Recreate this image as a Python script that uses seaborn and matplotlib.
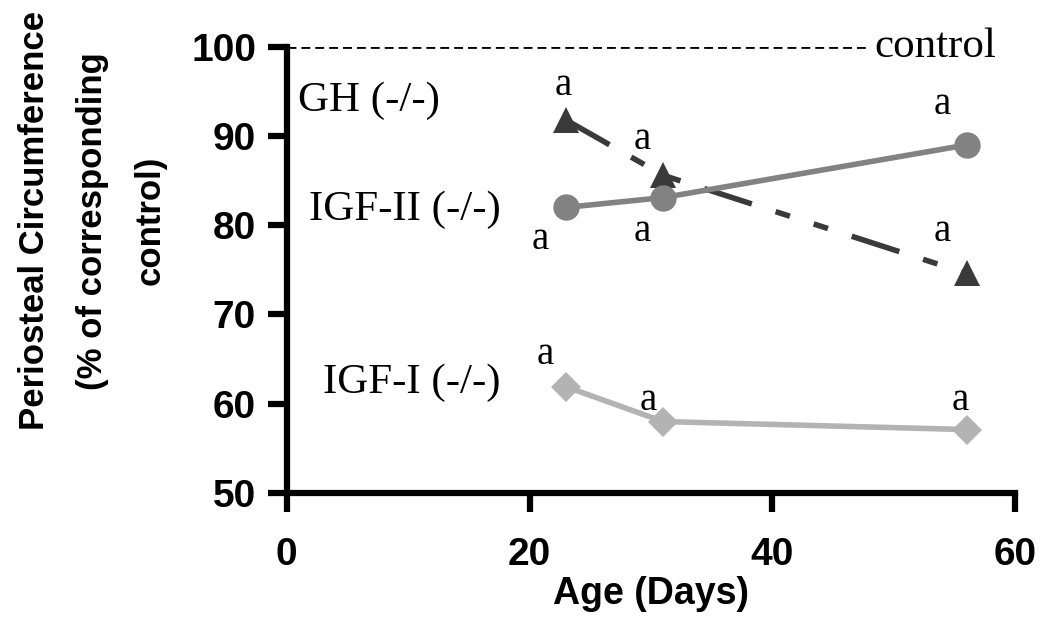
import matplotlib
matplotlib.use("Agg")
import matplotlib.pyplot as plt
import pandas as pd
import seaborn as sns

# values
age_days = [23, 31, 56]
gh_ko = [91.8, 85.6, 74.6]
igf2_ko = [82.0, 83.1, 89.0]
igf1_ko = [61.9, 58.0, 57.1]

series_names = ["GH (-/-)", "IGF-II (-/-)", "IGF-I (-/-)"]
series_colors = ["#3a3a3a", "#828282", "#b3b3b3"]
series_markers = ["^", "o", "D"]

control_level = 100
control_span = [0, 48]

# significance marks "a": (age, value)
sig_marks_x = [22.8, 29.3, 54.0, 20.9, 29.3, 54.0, 21.3, 29.8, 55.5]
sig_marks_y = [95.7, 89.6, 93.5, 78.4, 79.3, 79.3, 65.5, 60.4, 60.4]

df = pd.DataFrame({
    "age": age_days * 3,
    "pct": gh_ko + igf2_ko + igf1_ko,
    "group": [n for n in series_names for _ in age_days],
})

sns.set_style("white")
plt.rcParams["font.family"] = ["Liberation Sans", "DejaVu Sans"]
plt.rcParams.update({
    "text.color": "black",
    "axes.labelcolor": "black",
    "xtick.color": "black",
    "ytick.color": "black",
})

fig = plt.figure(figsize=(10.5, 6.41), dpi=100)
ax = fig.add_axes([0.273, 0.231, 0.694, 0.696])

sns.lineplot(
    data=df, x="age", y="pct", hue="group", style="group",
    hue_order=series_names, style_order=series_names,
    palette=dict(zip(series_names, series_colors)),
    markers=dict(zip(series_names, series_markers)),
    dashes={series_names[0]: (9, 4.5, 2.7, 4.5, 2.7, 4.5), series_names[1]: "", series_names[2]: ""},
    linewidth=4, markersize=19, markeredgewidth=0,
    legend=False, ax=ax, clip_on=False,
)
# diamonds a bit smaller than the other markers
ax.lines[2].set_markersize(15)

ax.plot(control_span, [control_level] * 2, color="black", lw=2, ls=(0, (3.2, 1.8)))

serif = ["Liberation Serif", "DejaVu Serif"]
ax.text(53.4, control_level, "control", fontsize=31, family=serif, ha="center", va="center")
ax.text(6.8, 94.0, series_names[0], fontsize=31, family=serif, ha="center", va="center")
ax.text(9.7, 81.7, series_names[1], fontsize=31, family=serif, ha="center", va="center")
ax.text(10.3, 62.4, series_names[2], fontsize=31, family=serif, ha="center", va="center")
for x, y in zip(sig_marks_x, sig_marks_y):
    ax.text(x, y, "a", fontsize=28, family=serif, ha="center", va="center")

ax.set_xlim(0, 60)
ax.set_ylim(50, 100)
ax.set_xticks([0, 20, 40, 60])
ax.set_yticks([50, 60, 70, 80, 90, 100])
ax.tick_params(axis="both", bottom=True, left=True, direction="out",
               length=14, width=4.5, labelsize=28, pad=8)
ax.tick_params(axis="x", pad=18)
for lab in ax.get_xticklabels() + ax.get_yticklabels():
    lab.set_fontweight("bold")

for side in ["top", "right"]:
    ax.spines[side].set_visible(False)
for side in ["left", "bottom"]:
    ax.spines[side].set_linewidth(4.5)
    ax.spines[side].set_color("black")

ax.set_xlabel("Age (Days)", fontsize=27, fontweight="bold", labelpad=2)
ax.set_ylabel("Periosteal Circumference\n(% of corresponding\ncontrol)",
              fontsize=25, fontweight="bold", linespacing=1.95)
ax.yaxis.set_label_coords(-0.165, 0.61)

fig.savefig("out.png", dpi=100)
